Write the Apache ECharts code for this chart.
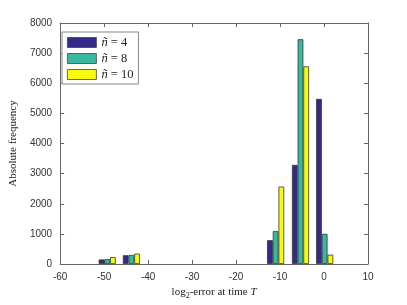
<!DOCTYPE html>
<html>
<head>
<meta charset="utf-8">
<script src="https://cdn.jsdelivr.net/npm/echarts@6/dist/echarts.min.js"></script>
<style>html,body{margin:0;padding:0;background:#fff}#c{width:407px;height:305px}</style>
</head>
<body>
<div id="c"></div>
<script>
const binCenters = [-49.3, -43.8, -11.0, -5.35, 0.15];
const seriesNames = ['ñ = 4', 'ñ = 8', 'ñ = 10'];
const n4 = [150, 290, 790, 3290, 5480];
const n8 = [160, 300, 1090, 7460, 1000];
const n10 = [230, 345, 2570, 6560, 310];
const xTicks = [-60, -50, -40, -30, -20, -10, 0, 10];
const yTicks = [0, 1000, 2000, 3000, 4000, 5000, 6000, 7000, 8000];
const colors = ['#352a87', '#3ab89f', '#f9fb0e'];

const chart = echarts.init(document.getElementById('c'));
const allValues = [n4, n8, n10];
const axisLine = {show: true, onZero: false, lineStyle: {color: '#666', width: 1}};
const tickIn = {inside: true, length: 4, lineStyle: {color: '#666'}};
const labelStyle = {color: '#333', fontFamily: 'Liberation Sans', fontSize: 10, formatter: v => String(v)};
chart.setOption({
  animation: false,
  grid: {left: 53, right: 39, top: 23, bottom: 34},
  legend: {
    left: 62, top: 32, orient: 'vertical',
    data: seriesNames,
    icon: 'rect',
    itemWidth: 29, itemHeight: 10, itemGap: 3,
    itemStyle: {borderColor: '#444', borderWidth: 0.8},
    padding: [4, 5, 3, 5],
    borderColor: '#888', borderWidth: 1, backgroundColor: '#fff',
    textStyle: {fontFamily: 'Liberation Serif', fontSize: 12.5, color: '#222',
      rich: {i: {fontFamily: 'Liberation Serif', fontStyle: 'italic', fontSize: 12.5, color: '#222'}}},
    formatter: n => '{i|' + n.slice(0, 1) + '}' + n.slice(1)
  },
  xAxis: [{
    type: 'value', min: xTicks[0], max: xTicks[xTicks.length - 1], interval: 10,
    axisLine: axisLine, axisTick: tickIn, splitLine: {show: false},
    axisLabel: labelStyle,
    name: 'log{sub|2}-error at time {i|T}', nameLocation: 'middle', nameGap: 21,
    nameTextStyle: {fontFamily: 'Liberation Serif', fontSize: 11, color: '#222',
      rich: {sub: {fontSize: 8, padding: [7, 0, 0, 0], fontFamily: 'Liberation Serif', color: '#222'},
             i: {fontStyle: 'italic', fontFamily: 'Liberation Serif', fontSize: 11, color: '#222'}}}
  }, {
    type: 'value', position: 'top', min: xTicks[0], max: xTicks[xTicks.length - 1], interval: 10,
    axisLine: axisLine, axisTick: tickIn, axisLabel: {show: false}, splitLine: {show: false}
  }],
  yAxis: [{
    type: 'value', min: yTicks[0], max: yTicks[yTicks.length - 1], interval: 1000,
    axisLine: axisLine, axisTick: tickIn, splitLine: {show: false},
    axisLabel: labelStyle,
    name: 'Absolute frequency', nameLocation: 'middle', nameGap: 37,
    nameTextStyle: {fontFamily: 'Liberation Serif', fontSize: 11, color: '#222'}
  }, {
    type: 'value', position: 'right', min: yTicks[0], max: yTicks[yTicks.length - 1], interval: 1000,
    axisLine: axisLine, axisTick: tickIn,
    axisLabel: {show: false}, splitLine: {show: false}
  }],
  series: seriesNames.map((name, k) => ({
    name: name, type: 'bar', xAxisIndex: 0, yAxisIndex: 0,
    barWidth: 5.7, barGap: '0%',
    itemStyle: {color: colors[k], borderColor: '#333', borderWidth: 0.8},
    data: binCenters.map((x, i) => [x, allValues[k][i]])
  }))
});
</script>
</body>
</html>
